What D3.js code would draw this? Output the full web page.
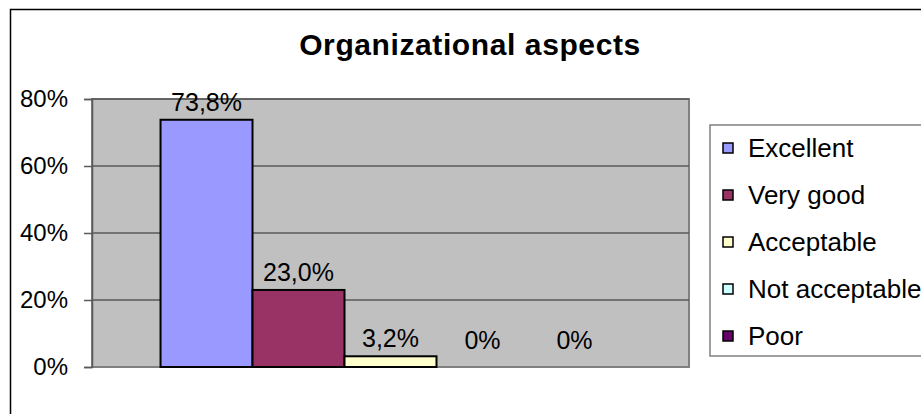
<!DOCTYPE html>
<html>
<head>
<meta charset="utf-8">
<script src="https://cdn.jsdelivr.net/npm/d3@7"></script>
<style>
  body { margin: 0; background: #fff; }
  text { font-family: "Liberation Sans", Arial, sans-serif; }
</style>
</head>
<body>
<div id="chart"></div>
<script>

var categories = ["Excellent", "Very good", "Acceptable", "Not acceptable", "Poor"]
var values = [73.8, 23.0, 3.2, 0, 0]
var colors = ["#9999FF", "#993366", "#FFFFCC", "#CCFFFF", "#660066"]
var yTicks = [0, 20, 40, 60, 80]

var width = 921
var height = 414

var plot = {left: 92, right: 689, top: 99, bottom: 367}

var svg = d3.select("#chart").append("svg")
  .attr("width", width)
  .attr("height", height);

// outer chart border (runs off the picture on the right and bottom)
svg.append("rect")
  .attr("x", 10.5)
  .attr("y", 9.5)
  .attr("width", 930)
  .attr("height", 420)
  .attr("fill", "#fff")
  .attr("stroke", "#000")
  .attr("stroke-width", 1.5);

svg.append("text")
  .attr("x", 470)
  .attr("y", 55)
  .attr("text-anchor", "middle")
  .style("font-size", "30px")
  .style("font-weight", "bold")
  .style("letter-spacing", "0.6px")
  .text("Organizational aspects");

var x = d3.scaleBand()
  .domain(categories)
  .range([plot.left, plot.right])
  .paddingInner(0)
  .paddingOuter(0.745);

var y = d3.scaleLinear()
  .domain([0, 80])
  .range([plot.bottom, plot.top]);

// plot area
svg.append("rect")
  .attr("x", plot.left)
  .attr("y", plot.top)
  .attr("width", plot.right - plot.left)
  .attr("height", plot.bottom - plot.top)
  .attr("fill", "#C0C0C0")
  .attr("stroke", "#808080")
  .attr("stroke-width", 2);

svg.append("g")
  .selectAll("line")
  .data(yTicks.slice(1))
  .enter().append("line")
  .attr("x1", plot.left)
  .attr("x2", plot.right)
  .attr("y1", d => y(d))
  .attr("y2", d => y(d))
  .attr("stroke", "#5a5a5a")
  .attr("stroke-width", 1.5);

var yAxis = svg.append("g")
  .attr("transform", `translate(${plot.left},0)`)
  .call(d3.axisLeft(y)
    .tickValues(yTicks)
    .tickSize(8)
    .tickPadding(16)
    .tickFormat(d => d + "%"));

yAxis.select(".domain")
  .attr("stroke", "#5a5a5a")
  .attr("stroke-width", 1.5);
yAxis.selectAll(".tick line")
  .attr("stroke", "#5a5a5a")
  .attr("stroke-width", 1.5);
yAxis.selectAll(".tick text")
  .attr("fill", "#000")
  .style("font-size", "24px")
  .style("font-family", "'Liberation Sans', Arial, sans-serif");

// bars
svg.append("g")
  .selectAll("rect")
  .data(values)
  .enter().append("rect")
  .attr("x", (d, i) => x(categories[i]))
  .attr("y", d => y(d))
  .attr("width", x.bandwidth())
  .attr("height", d => y(0) - y(d))
  .attr("fill", (d, i) => colors[i])
  .attr("stroke", "#000")
  .attr("stroke-width", d => d > 0 ? 2 : 0);

var fmt = function(v) {
  if (v === 0) return "0%";
  return v.toFixed(1).replace(".", ",") + "%";
}

svg.append("g")
  .selectAll("text")
  .data(values)
  .enter().append("text")
  .attr("x", (d, i) => x(categories[i]) + x.bandwidth() / 2)
  .attr("y", d => y(d) - (d > 0 ? 9 : 18))
  .attr("text-anchor", "middle")
  .style("font-size", "25px")
  .text(d => fmt(d));

// legend
var legend = svg.append("g");

legend.append("rect")
  .attr("x", 710)
  .attr("y", 125)
  .attr("width", 230)
  .attr("height", 231)
  .attr("fill", "#fff")
  .attr("stroke", "#808080")
  .attr("stroke-width", 1.5);

var items = legend.selectAll(".item")
  .data(categories)
  .enter().append("g")
  .attr("class", "item")
  .attr("transform", (d, i) => `translate(723, ${148 + i * 47})`);

items.append("rect")
  .attr("x", 0)
  .attr("y", -5)
  .attr("width", 10)
  .attr("height", 10)
  .attr("fill", (d, i) => colors[i])
  .attr("stroke", "#000")
  .attr("stroke-width", 1.5);

items.append("text")
  .attr("x", 25)
  .attr("y", 0)
  .attr("dy", "0.35em")
  .style("font-size", "26px")
  .text(d => d);

</script>
</body>
</html>
